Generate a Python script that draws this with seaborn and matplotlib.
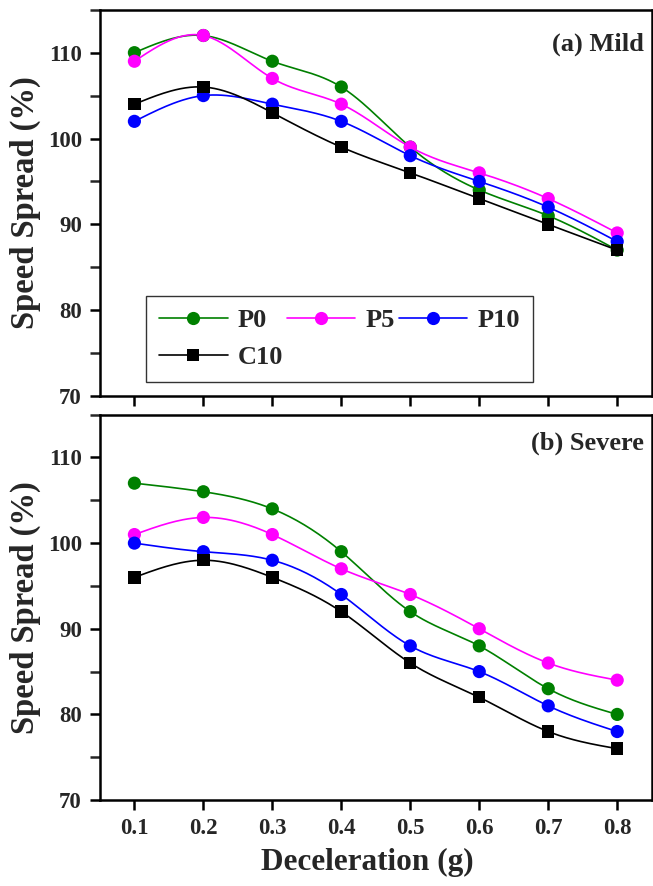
import numpy as np
import pandas as pd
import matplotlib
matplotlib.use("Agg")
import matplotlib.pyplot as plt
from matplotlib.lines import Line2D
from matplotlib.ticker import MultipleLocator
import seaborn as sns

# ---- data ----
decel = [0.1, 0.2, 0.3, 0.4, 0.5, 0.6, 0.7, 0.8]
series_names = ["P0", "P5", "P10", "C10"]

mild_P0 = [110, 112, 109, 106, 99, 94, 91, 87]
mild_P5 = [109, 112, 107, 104, 99, 96, 93, 89]
mild_P10 = [102, 105, 104, 102, 98, 95, 92, 88]
mild_C10 = [104, 106, 103, 99, 96, 93, 90, 87]

severe_P0 = [107, 106, 104, 99, 92, 88, 83, 80]
severe_P5 = [101, 103, 101, 97, 94, 90, 86, 84]
severe_P10 = [100, 99, 98, 94, 88, 85, 81, 78]
severe_C10 = [96, 98, 96, 92, 86, 82, 78, 76]

y_ticks = [70, 80, 90, 100, 110]

colors = {"P0": "#008000", "P5": "#FF00FF", "P10": "#0000FF", "C10": "#000000"}
markers = {"P0": "o", "P5": "o", "P10": "o", "C10": "s"}

sns.set_style("ticks")
plt.rcParams["font.family"] = ["Liberation Serif", "DejaVu Serif"]
plt.rcParams["font.weight"] = "bold"
plt.rcParams["axes.labelweight"] = "bold"


def natural_spline(x, y, n=200):
    x = np.asarray(x, float)
    y = np.asarray(y, float)
    k = len(x)
    h = np.diff(x)
    A = np.zeros((k, k))
    b = np.zeros(k)
    A[0, 0] = 1
    A[-1, -1] = 1
    for i in range(1, k - 1):
        A[i, i - 1] = h[i - 1]
        A[i, i] = 2 * (h[i - 1] + h[i])
        A[i, i + 1] = h[i]
        b[i] = 6 * ((y[i + 1] - y[i]) / h[i] - (y[i] - y[i - 1]) / h[i - 1])
    M = np.linalg.solve(A, b)
    xs = np.linspace(x[0], x[-1], n)
    idx = np.clip(np.searchsorted(x, xs) - 1, 0, k - 2)
    x0, x1 = x[idx], x[idx + 1]
    hh = x1 - x0
    ys = (M[idx] * (x1 - xs) ** 3 / (6 * hh) + M[idx + 1] * (xs - x0) ** 3 / (6 * hh)
          + (y[idx] / hh - M[idx] * hh / 6) * (x1 - xs)
          + (y[idx + 1] / hh - M[idx + 1] * hh / 6) * (xs - x0))
    return xs, ys


fig = plt.figure(figsize=(6.53, 8.86), dpi=100)
ax1 = fig.add_axes([0.153, 0.553, 0.845, 0.436])
ax2 = fig.add_axes([0.153, 0.097, 0.845, 0.435])

panels = [
    (ax1, {"P0": mild_P0, "P5": mild_P5, "P10": mild_P10, "C10": mild_C10}, "(a) Mild", 0.91),
    (ax2, {"P0": severe_P0, "P5": severe_P5, "P10": severe_P10, "C10": severe_C10}, "(b) Severe", 0.925),
]

for ax, data, title, ty in panels:
    for name in series_names:
        xs, ys = natural_spline(decel, data[name])
        smooth = pd.DataFrame({"x": xs, "y": ys})
        sns.lineplot(data=smooth, x="x", y="y", ax=ax, color=colors[name], lw=1.2,
                     sort=False, estimator=None)
        pts = pd.DataFrame({"x": decel, "y": data[name]})
        sns.scatterplot(data=pts, x="x", y="y", ax=ax, color=colors[name],
                        marker=markers[name], s=90 if markers[name] == "o" else 80,
                        edgecolor="none", linewidth=0, zorder=3)
    ax.set_xlim(0.05, 0.85)
    ax.set_ylim(70, 115)
    ax.set_yticks(y_ticks)
    ax.yaxis.set_minor_locator(MultipleLocator(5))
    ax.set_xticks(decel)
    ax.set_ylabel("Speed Spread (%)", fontsize=23.5, fontweight="bold", labelpad=5)
    ax.set_xlabel("")
    for s in ax.spines.values():
        s.set_visible(True)
        s.set_linewidth(1.8)
        s.set_color("black")
    ax.tick_params(axis="both", which="major", direction="out", length=7, width=1.8,
                   labelsize=16.5, color="black", pad=6)
    ax.tick_params(axis="y", which="minor", direction="out", length=7, width=1.8)
    ax.tick_params(top=False, right=False)
    ax.text(0.985, ty, title, transform=ax.transAxes, ha="right", va="center",
            fontsize=19, fontweight="bold")
    for lab in ax.get_xticklabels() + ax.get_yticklabels():
        lab.set_fontweight("bold")

ax1.tick_params(axis="x", labelbottom=False)
ax2.set_xticklabels([f"{v:.1f}" for v in decel])
for lab in ax2.get_xticklabels():
    lab.set_fontweight("bold")
ax2.set_xlabel("Deceleration (g)", fontsize=22.5, fontweight="bold")
ax2.xaxis.set_label_coords(0.484, -0.124)

# legend: row-major order P0, P5, P10 / C10 (matplotlib fills column-wise)
leg_order = ["P0", "C10", "P5", "P10"]
handles = [Line2D([0], [0], color=colors[n], marker=markers[n], lw=1.2,
                  markersize=9.5 if markers[n] == "o" else 9, markeredgewidth=0)
           for n in leg_order]
leg = ax1.legend(handles, leg_order, loc="lower left",
                 bbox_to_anchor=(0.083, 0.036), ncol=3, frameon=True, fancybox=False,
                 edgecolor="black", handlelength=2.6, columnspacing=0.15,
                 handletextpad=0.38, borderpad=0.5, labelspacing=0.5,
                 borderaxespad=0, prop={"weight": "bold", "size": 19})
leg.get_frame().set_linewidth(1.0)

fig.savefig("out.png", dpi=100)
